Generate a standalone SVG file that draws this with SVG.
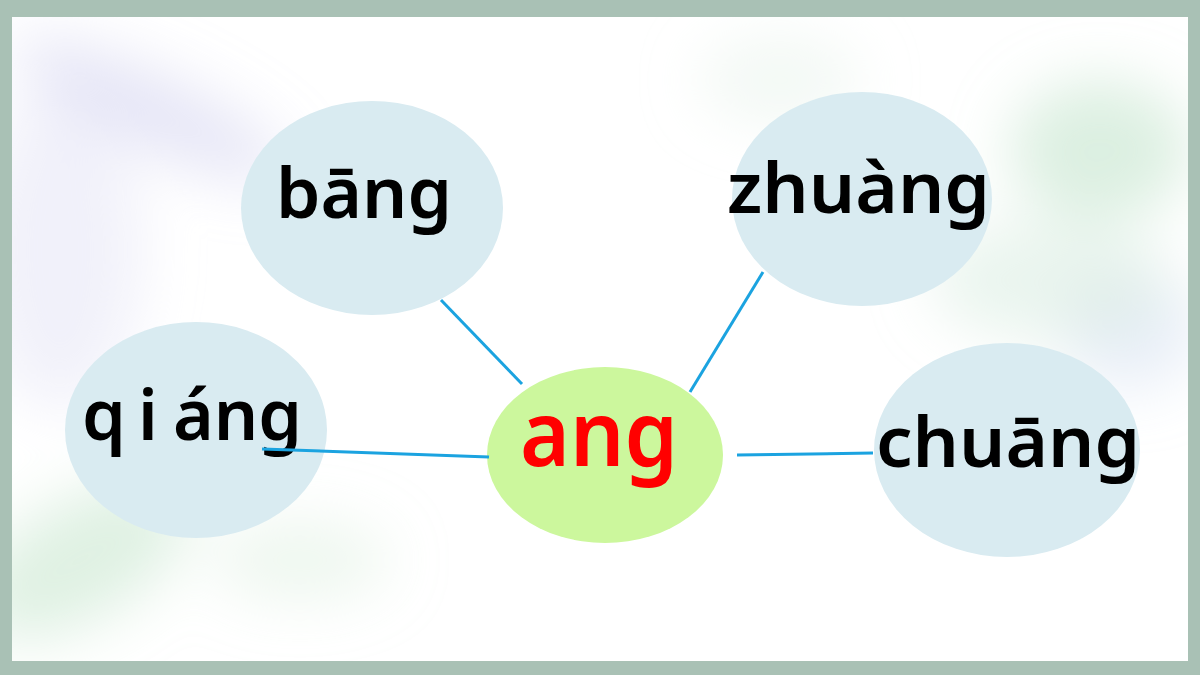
<svg xmlns="http://www.w3.org/2000/svg" width="1200" height="675" viewBox="0 0 1200 675">
<defs>
<filter id="blur" x="-50%" y="-50%" width="200%" height="200%"><feGaussianBlur stdDeviation="30"/></filter>
<clipPath id="panel"><rect x="12" y="17" width="1176" height="644"/></clipPath>
<style>
.node{fill:#d9ebf1}
.center{fill:#ccf79d}
.lbl{font-family:"Noto Sans","DejaVu Sans",sans-serif;font-weight:600;font-size:70px;fill:#000}
.main{font-family:"Noto Sans","DejaVu Sans",sans-serif;font-weight:600;font-size:90px;fill:#ff0000}
.edge{stroke:#1ba3e0;stroke-width:3;fill:none}
</style>
</defs>
<rect x="0" y="0" width="1200" height="675" fill="#a9c1b5"/>
<rect x="12" y="17" width="1176" height="644" fill="#ffffff"/>
<g clip-path="url(#panel)" filter="url(#blur)">
<ellipse cx="150" cy="110" rx="150" ry="35" fill="#c9c9ee" opacity="0.5" transform="rotate(25 150 110)"/>
<ellipse cx="60" cy="250" rx="80" ry="160" fill="#e3e4f6" opacity="0.5"/>
<ellipse cx="80" cy="560" rx="120" ry="60" fill="#bfe3c8" opacity="0.5" transform="rotate(-30 80 560)"/>
<ellipse cx="300" cy="560" rx="90" ry="40" fill="#d4ecd8" opacity="0.4"/>
<ellipse cx="1100" cy="150" rx="90" ry="70" fill="#b9dfc4" opacity="0.5"/>
<ellipse cx="1130" cy="330" rx="70" ry="60" fill="#c9d8ee" opacity="0.4"/>
<ellipse cx="1050" cy="280" rx="120" ry="60" fill="#d6ecde" opacity="0.5"/>
<ellipse cx="780" cy="80" rx="80" ry="40" fill="#e6f2ea" opacity="0.5"/>
</g>
<g id="node-bang">
<ellipse class="node" cx="372" cy="208" rx="131" ry="107"/>
<text class="lbl" x="276" y="218" textLength="176" lengthAdjust="spacingAndGlyphs">bāng</text>
</g>
<g id="node-zhuang">
<ellipse class="node" cx="862" cy="199" rx="130" ry="107"/>
<text class="lbl" x="727" y="213" textLength="263" lengthAdjust="spacingAndGlyphs">zhuàng</text>
</g>
<g id="node-qiang">
<ellipse class="node" cx="196" cy="430" rx="131" ry="108"/>
<text class="lbl" x="82" y="440"><tspan x="82">q</tspan><tspan x="138">i</tspan><tspan x="173" textLength="129" lengthAdjust="spacingAndGlyphs">áng</tspan></text>
</g>
<g id="node-chuang">
<ellipse class="node" cx="1007" cy="450" rx="133" ry="107"/>
<text class="lbl" x="876" y="467" textLength="264" lengthAdjust="spacingAndGlyphs">chuāng</text>
</g>
<g id="node-ang">
<ellipse class="center" cx="605" cy="455" rx="118" ry="88"/>
<text class="main" x="520" y="466" textLength="158" lengthAdjust="spacingAndGlyphs">ang</text>
</g>
<g id="connectors">
<line class="edge" x1="441" y1="300" x2="522" y2="384"/>
<line class="edge" x1="763" y1="272" x2="690" y2="392"/>
<line class="edge" x1="262" y1="449" x2="489" y2="457"/>
<line class="edge" x1="737" y1="455" x2="873" y2="453"/>
</g>
</svg>
